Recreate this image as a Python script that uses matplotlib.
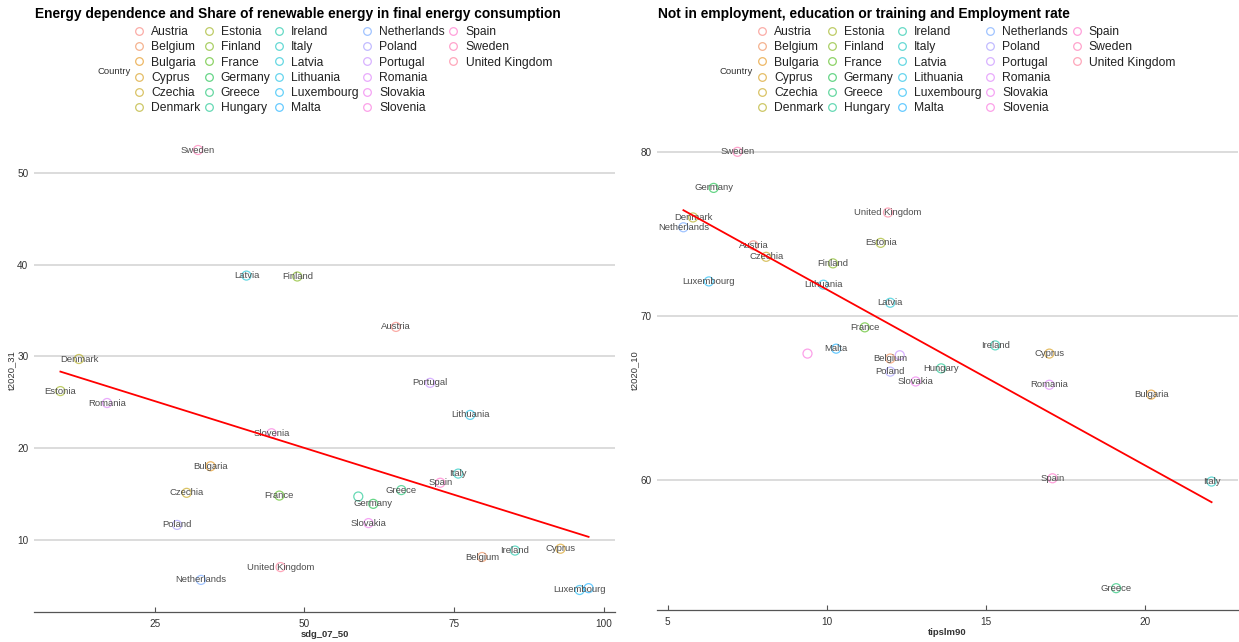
import numpy as np
import matplotlib
matplotlib.use("Agg")
import matplotlib.pyplot as plt
from matplotlib.lines import Line2D

plt.rcParams['font.family'] = ['Liberation Sans', 'DejaVu Sans']

countries = ["Austria", "Belgium", "Bulgaria", "Cyprus", "Czechia", "Denmark", "Estonia",
             "Finland", "France", "Germany", "Greece", "Hungary", "Ireland", "Italy", "Latvia",
             "Lithuania", "Luxembourg", "Malta", "Netherlands", "Poland", "Portugal", "Romania",
             "Slovakia", "Slovenia", "Spain", "Sweden", "United Kingdom"]

# Left chart: energy dependence (x) vs share of renewables (y)
sdg_07_50 = [65.3, 79.7, 34.3, 92.8, 30.3, 12.3, 9.2, 48.8, 45.8, 61.5, 66.2, 59.0, 85.2, 75.7,
             40.3, 77.7, 96.0, 97.5, 32.7, 28.7, 71.0, 17.0, 60.7, 44.5, 72.7, 32.2, 46.0]
t2020_31 = [33.2, 8.1, 18.0, 9.0, 15.1, 29.7, 26.2, 38.7, 14.8, 13.9, 15.4, 14.7, 8.8, 17.2,
            38.8, 23.6, 4.5, 4.7, 5.6, 11.6, 27.1, 24.9, 11.8, 21.6, 16.2, 52.5, 7.0]
hidden_left = ["Hungary", "Malta"]

# Right chart: NEET rate (x) vs employment rate (y)
tipslm90 = [7.7, 12.0, 20.2, 17.0, 8.1, 5.8, 11.7, 10.2, 11.2, 6.45, 19.1, 13.6, 15.3, 22.1,
            12.0, 9.9, 6.3, 10.3, 5.5, 12.0, 12.3, 17.0, 12.8, 9.4, 17.1, 7.2, 11.93]
t2020_10 = [74.3, 67.4, 65.2, 67.7, 73.6, 76.0, 74.45, 73.2, 69.3, 77.8, 53.4, 66.8, 68.2, 59.9,
            70.8, 71.9, 72.1, 68.0, 75.4, 66.6, 67.6, 65.8, 66.0, 67.7, 60.1, 80.0, 76.3]
hidden_right = ["Portugal", "Slovenia"]

left_title = "Energy dependence and Share of renewable energy in final energy consumption"
right_title = "Not in employment, education or training and Employment rate"
left_xticks = [25, 50, 75, 100]
left_yticks = [10, 20, 30, 40, 50]
right_xticks = [5, 10, 15, 20]
right_yticks = [60, 70, 80]


def hcl_to_rgb(h, c=100.0, l=65.0):
    Xn, Yn, Zn = 95.047, 100.0, 108.883
    un = 4 * Xn / (Xn + 15 * Yn + 3 * Zn)
    vn = 9 * Yn / (Xn + 15 * Yn + 3 * Zn)
    hr = np.deg2rad(h)
    u = c * np.cos(hr)
    v = c * np.sin(hr)
    Y = Yn * (((l + 16) / 116) ** 3 if l > 8 else l / 903.3)
    up = u / (13 * l) + un
    vp = v / (13 * l) + vn
    X = 9.0 * Y * up / (4 * vp)
    Z = -X / 3 - 5 * Y + 3 * Y / vp
    X, Y, Z = X / 100, Y / 100, Z / 100
    r = 3.240479 * X - 1.537150 * Y - 0.498535 * Z
    g = -0.969256 * X + 1.875992 * Y + 0.041556 * Z
    b = 0.055648 * X - 0.204043 * Y + 1.057311 * Z

    def gam(t):
        t = min(max(t, 0), 1)
        return 12.92 * t if t <= 0.0031308 else 1.055 * t ** (1 / 2.4) - 0.055
    return (gam(r), gam(g), gam(b))


n = len(countries)
hues = np.linspace(15, 375, n + 1)[:n]
colors = [hcl_to_rgb(h) for h in hues]

W, H = 1239, 642
fig = plt.figure(figsize=(W / 100, H / 100), dpi=100)

label_color = "#4d4d4d"
grid_color = "#d9d9d9"


def panel(rect, xs, ys, xticks, yticks, xlabel, ylabel, hidden):
    ax = fig.add_axes(rect)
    for i, c in enumerate(countries):
        ax.scatter(xs[i], ys[i], s=42, facecolors='none', edgecolors=[colors[i]],
                   linewidths=0.9, alpha=0.6, zorder=3)
        if c not in hidden:
            ax.text(xs[i], ys[i], c, fontsize=6.8, color=label_color, ha='center',
                    va='center', zorder=4)
    xa = np.array(xs)
    ya = np.array(ys)
    k, b0 = np.polyfit(xa, ya, 1)
    xx = np.array([xa.min(), xa.max()])
    ax.plot(xx, k * xx + b0, color='red', lw=1.3, zorder=5)
    ax.margins(0.05)
    ax.set_xticks(xticks)
    ax.set_yticks(yticks)
    ax.yaxis.grid(True, color=grid_color, lw=1.3)
    ax.set_axisbelow(True)
    for s in ['top', 'right', 'left']:
        ax.spines[s].set_visible(False)
    ax.spines['bottom'].set_color('#555555')
    ax.spines['bottom'].set_linewidth(0.9)
    ax.tick_params(axis='x', direction='in', length=3.6, width=0.8, color='#555555',
                   labelsize=7.2, labelcolor='#333333', pad=5)
    ax.tick_params(axis='y', length=0, labelsize=7.2, labelcolor='#333333', pad=4)
    ax.set_xlabel(xlabel, fontsize=6.8, fontweight='bold', color='#333333', labelpad=1)
    ax.set_ylabel(ylabel, fontsize=6.8, color='#333333', labelpad=0.5)
    return ax


axL = panel([34 / W, 30 / H, 581 / W, 484 / H], sdg_07_50, t2020_31, left_xticks, left_yticks,
            "sdg_07_50", "t2020_31", hidden_left)
axR = panel([657 / W, 32 / H, 581 / W, 480 / H], tipslm90, t2020_10, right_xticks, right_yticks,
            "tipslm90", "t2020_10", hidden_right)


def legend_block(x0, title):
    fig.text(x0 / W, 1 - 14 / H, title, fontsize=9.9, fontweight='bold', color='black',
             ha='left', va='center')
    handles = []
    labels = []
    for i, c in enumerate(countries):
        handles.append(Line2D([], [], marker='o', linestyle='none', markerfacecolor='none',
                              markeredgecolor=colors[i], markersize=5.5, markeredgewidth=0.9,
                              alpha=0.6))
        labels.append(c)
    for _ in range(3):
        handles.append(Line2D([], [], linestyle='none'))
        labels.append('')
    leg = fig.legend(handles, labels, ncol=5, loc='upper left',
                     bbox_to_anchor=((x0 + 99) / W, 1 - 26 / H), bbox_transform=fig.transFigure,
                     frameon=False, fontsize=8.7, handlelength=0.8, handletextpad=0.6,
                     columnspacing=0.3, labelspacing=0.27, borderpad=0, borderaxespad=0)
    for t in leg.get_texts():
        t.set_color('#222222')
    fig.text((x0 + 62) / W, 1 - 71 / H, "Country", fontsize=6.8, color='#333333',
             ha='left', va='center')


legend_block(35, left_title)
legend_block(658, right_title)

fig.savefig("out.png", dpi=100)
